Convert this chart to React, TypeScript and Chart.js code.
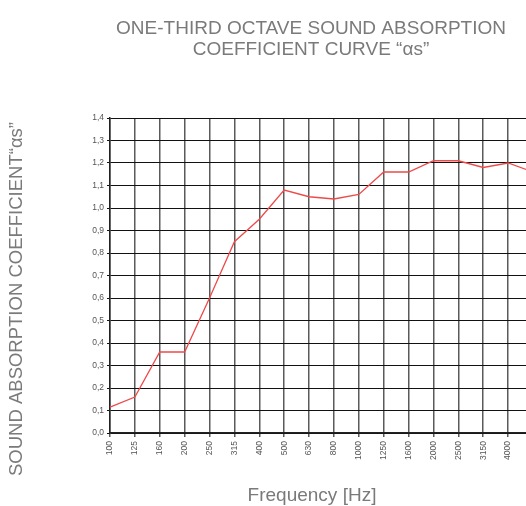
import React, { useEffect, useRef } from "react";
import { Chart, registerables } from "chart.js";

Chart.register(...registerables);

const frequencies = ["100", "125", "160", "200", "250", "315", "400", "500", "630", "800", "1000", "1250", "1600", "2000", "2500", "3150", "4000", "5000"];
const absorption = [0.115, 0.16, 0.36, 0.36, 0.6, 0.85, 0.95, 1.08, 1.05, 1.04, 1.06, 1.16, 1.16, 1.21, 1.21, 1.18, 1.2, 1.16];
const titleLines = ["ONE-THIRD OCTAVE SOUND ABSORPTION", "COEFFICIENT CURVE \u201c\u03b1s\u201d"];
const yTitle = "SOUND ABSORPTION COEFFICIENT\u201c\u03b1s\u201d";
const xTitle = "Frequency [Hz]";

const FONT = '"Liberation Sans", Arial, sans-serif';

const titlesPlugin = {
  id: "customTitles",
  afterDraw(chart: any) {
    const ctx = chart.ctx as CanvasRenderingContext2D;
    ctx.save();
    ctx.fillStyle = "#7a7a7a";
    ctx.textAlign = "center";
    ctx.textBaseline = "middle";
    ctx.font = `19px ${FONT}`;
    ctx.fillText(titleLines[0], 311, 29);
    ctx.fillText(titleLines[1], 311, 50);
    ctx.font = `19px ${FONT}`;
    ctx.fillText(xTitle, 312, 496);
    ctx.translate(17, 299);
    ctx.rotate(-Math.PI / 2);
    ctx.font = `18.5px ${FONT}`;
    ctx.fillText(yTitle, 0, 0);
    ctx.restore();
  },
};

export default function App() {
  const ref = useRef<HTMLCanvasElement | null>(null);
  useEffect(() => {
    if (!ref.current) return;
    const chart = new Chart(ref.current, {
      type: "line",
      data: {
        labels: frequencies,
        datasets: [
          {
            data: absorption,
            borderColor: "#ef4a4a",
            borderWidth: 1.3,
            pointRadius: 0,
            tension: 0,
            fill: false,
          },
        ],
      },
      options: {
        responsive: false,
        animation: false,
        devicePixelRatio: 1,
        layout: { padding: { left: 0, right: 87, top: 118, bottom: 0 } },
        plugins: { legend: { display: false }, title: { display: false }, tooltip: { enabled: false } },
        scales: {
          x: {
            offset: false,
            afterFit: (s: any) => { s.height = 73; },
            grid: { color: "#5a5a5a", lineWidth: 1.5, tickLength: 4, tickColor: "#5a5a5a" },
            border: { color: "#222", width: 1.5 },
            ticks: {
              autoSkip: false,
              minRotation: 90,
              maxRotation: 90,
              padding: 4,
              color: "#555",
              font: { family: FONT, size: 8.5 },
            },
          },
          y: {
            min: 0,
            max: 1.4,
            afterFit: (s: any) => { s.width = 110; },
            grid: { color: "#111", lineWidth: 1, tickLength: 3, tickColor: "#111" },
            border: { color: "#222", width: 1.5 },
            ticks: {
              stepSize: 0.1,
              padding: 3,
              color: "#555",
              font: { family: FONT, size: 8.5 },
              callback: (v: any) => Number(v).toFixed(1).replace(".", ","),
            },
          },
        },
      },
      plugins: [titlesPlugin],
    });
    return () => chart.destroy();
  }, []);
  return (
    <div style={{ position: "absolute", left: 0, top: 0, width: 526, height: 506, overflow: "hidden", background: "#fff" }}>
      <canvas ref={ref} width={620} height={506} style={{ position: "absolute", left: 0, top: 0 }} />
    </div>
  );
}
